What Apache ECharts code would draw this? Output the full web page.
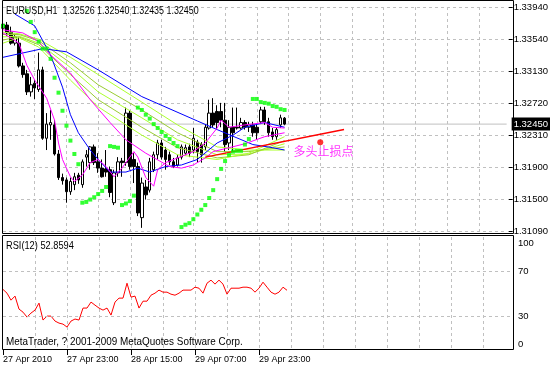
<!DOCTYPE html>
<html><head><meta charset="utf-8">
<script src="https://cdn.jsdelivr.net/npm/echarts@6/dist/echarts.min.js"></script>
<style>html,body{margin:0;padding:0;background:#fff}#c{width:551px;height:367px}</style>
</head><body><div id="c"></div>
<script>
const FONT = '"Liberation Sans", Arial, sans-serif';
const timeLabels = ['27 Apr 2010','27 Apr 23:00','28 Apr 15:00','29 Apr 07:00','29 Apr 23:00'];
const priceTicks = ['1.31090','1.31500','1.31900','1.32310','1.32720','1.33130','1.33540','1.33940'];
const rsiTicks = [0,30,70,100];
const titleText = 'EURUSD,H1  1.32526 1.32540 1.32435 1.32450';
const rsiTitle = 'RSI(12) 52.8594';
const copyright = 'MetaTrader, ? 2001-2009 MetaQuotes Software Corp.';
const noteText = '多头止损点';
const lastPrice = 1.32450;

const open = [1.3367,1.3371,1.3362,1.3348,1.3348,1.3319,1.3309,1.3286,1.3297,1.3289,
 1.3314,1.3227,1.3244,1.3244,1.3207,1.3177,1.3174,1.3159,1.3168,1.3180,
 1.3168,1.3203,1.3196,1.3216,1.3197,1.3189,1.3188,1.3187,1.3145,1.3183,
 1.3198,1.3196,1.3259,1.3200,1.3191,1.3126,1.3165,1.3161,1.3187,1.3206,
 1.3221,1.3212,1.3206,1.3197,1.3193,1.3203,1.3208,1.3216,1.3212,1.3222,
 1.3219,1.3216,1.3240,1.3259,1.3261,1.3261,1.3250,1.3221,1.3241,1.3241,
 1.3240,1.3247,1.3241,1.3244,1.3241,1.3248,1.3263,1.3248,1.3235,1.3229,
 1.3244,1.32526];
const close = [1.3372,1.3361,1.3348,1.3356,1.3319,1.3308,1.3286,1.3295,1.3291,1.3314,
 1.3227,1.3245,1.3247,1.3207,1.3177,1.3173,1.3159,1.3172,1.3178,1.3174,
 1.3197,1.3206,1.3216,1.3196,1.3189,1.3178,1.3184,1.3158,1.3183,1.3197,
 1.3196,1.3259,1.3191,1.3191,1.3132,1.3170,1.3155,1.3197,1.3206,1.3221,
 1.3203,1.3200,1.3197,1.3191,1.3202,1.3216,1.3215,1.3208,1.3227,1.3210,
 1.3206,1.3241,1.3259,1.3244,1.3247,1.3250,1.3219,1.3241,1.3234,1.3240,
 1.3247,1.3241,1.3244,1.3234,1.3234,1.3263,1.3248,1.3234,1.3229,1.3238,
 1.3253,1.32450];
const low = [1.3364,1.3357,1.3346,1.3345,1.3317,1.3304,1.3282,1.3280,1.3277,1.3286,
 1.3225,1.3212,1.3225,1.3205,1.3174,1.3168,1.3145,1.3155,1.3161,1.3169,
 1.3164,1.3191,1.3187,1.3193,1.3183,1.3177,1.3178,1.3152,1.3142,1.3178,
 1.3178,1.3192,1.3187,1.3170,1.3128,1.3113,1.3149,1.3158,1.3184,1.3200,
 1.3200,1.3187,1.3193,1.3189,1.3191,1.3200,1.3205,1.3203,1.3208,1.3196,
 1.3196,1.3212,1.3238,1.3241,1.3238,1.3241,1.3210,1.3212,1.3210,1.3238,
 1.3238,1.3238,1.3235,1.3229,1.3225,1.3245,1.3244,1.3229,1.3225,1.3225,
 1.3240,1.32435];
const high = [1.3378,1.3375,1.3369,1.3360,1.3356,1.3323,1.3314,1.3305,1.3301,1.3336,
 1.3318,1.3259,1.3263,1.3250,1.3212,1.3182,1.3177,1.3177,1.3183,1.3183,
 1.3200,1.3212,1.3217,1.3219,1.3208,1.3200,1.3212,1.3191,1.3187,1.3203,
 1.3202,1.3266,1.3263,1.3208,1.3196,1.3177,1.3174,1.3202,1.3210,1.3225,
 1.3225,1.3216,1.3210,1.3202,1.3206,1.3219,1.3219,1.3220,1.3240,1.3225,
 1.3222,1.3244,1.3276,1.3278,1.3269,1.3272,1.3272,1.3250,1.3266,1.3266,
 1.3253,1.3250,1.3248,1.3248,1.3244,1.3267,1.3267,1.3253,1.3240,1.3241,
 1.3257,1.32540];

const sar = [[0,1.3370],[6,1.3389],[7,1.3375],[8,1.3362],[9,1.3350],[10,1.3341],[11,1.3341],[12,1.3328],[13,1.3304],[14,1.3285],
 [15,1.3262],[16,1.3243],[17,1.3224],[18,1.3207],[19,1.3194],[20,1.3145],[21,1.3146],[22,1.3149],[23,1.3152],[24,1.3156],
 [25,1.3160],[26,1.3165],[27,1.3217],[28,1.3216],[29,1.3215],[30,1.3142],[31,1.3144],[32,1.3147],[33,1.3154],[34,1.3266],
 [35,1.3263],[36,1.3257],[37,1.3252],[38,1.3245],[39,1.3240],[40,1.3235],[41,1.3230],[42,1.3226],[43,1.3221],[44,1.3217],
 [45,1.3114],[46,1.3117],[47,1.3119],[48,1.3124],[49,1.3130],[50,1.3136],[51,1.3142],[52,1.3151],[53,1.3161],[54,1.3175],
 [55,1.3188],[56,1.3198],[57,1.3206],[58,1.3210],[59,1.3211],[60,1.3211],[61,1.3219],[62,1.3226],[63,1.3277],[64,1.3277],
 [65,1.3273],[66,1.3272],[67,1.3271],[68,1.3268],[69,1.3267],[70,1.3264],[71,1.3263]];

const blueSlow = [[0,1.3330],[10,1.3341],[16,1.3337],[24,1.3314],[35,1.3280],[49,1.3249],[54,1.3238],[63,1.3219],[68,1.3215],[71,1.3212]];
const blueFast = [[3,1.3385],[8,1.3370],[12,1.3333],[15,1.3292],[17,1.3257],[19,1.3234],[22,1.3212],[24,1.3200],[27,1.3184],[31,1.3184],
 [34,1.3189],[37,1.3184],[41,1.3191],[45,1.3193],[49,1.3200],[54,1.3221],[58,1.3231],[61,1.3241],[66,1.3247],[71,1.3241]];
const magentaFast = [[0,1.3361],[4,1.3348],[6,1.3320],[8,1.3301],[11,1.3278],[13,1.3250],[14,1.3221],[15,1.3200],[17,1.3178],[18,1.3172],
 [20,1.3180],[22,1.3196],[24,1.3200],[26,1.3191],[28,1.3178],[30,1.3189],[33,1.3210],[34,1.3203],[36,1.3177],[38,1.3166],
 [39,1.3187],[41,1.3196],[44,1.3202],[48,1.3210],[51,1.3221],[54,1.3240],[55,1.3250],[57,1.3241],[61,1.3244],[66,1.3247],
 [68,1.3241],[71,1.3240]];
const magentaSlow = [[0,1.3365],[5,1.3361],[9,1.3350],[12,1.3333],[17,1.3310],[22,1.3276],[27,1.3247],[31,1.3225],[36,1.3208],[42,1.3191],
 [45,1.3189],[48,1.3193],[51,1.3202],[53,1.3210],[57,1.3215],[61,1.3220],[66,1.3229],[71,1.3234]];
const yellowIdx = [0,4,9,17,24,35,44,54,62,71];
const yellow1 = [1.3348,1.3355,1.3343,1.3301,1.3267,1.3231,1.3206,1.3200,1.3208,1.3229];
const yellow2 = [1.3352,1.3356,1.3346,1.3308,1.3276,1.3241,1.3215,1.3202,1.3206,1.3224];
const yellow3 = [1.3356,1.3357,1.3348,1.3317,1.3286,1.3253,1.3225,1.3206,1.3207,1.3220];
const yellow4 = [1.3359,1.3359,1.3351,1.3323,1.3295,1.3263,1.3234,1.3210,1.3210,1.3216];
const yellow5 = [1.3362,1.3360,1.3353,1.3330,1.3308,1.3273,1.3244,1.3216,1.3212,1.3212];
const trendLine = [[51,1.3203],[86,1.3238]];
const stopPoint = [[80,1.3222]];
const notePoint = [[73,1.3210]];

const rsi = [53.6,50.3,44.1,47.7,36.2,33.5,29.1,32.7,35.3,41.5,
 26.5,30.0,30.0,25.6,23.8,22.9,20.3,25.6,27.4,26.5,
 37.1,37.1,42.4,39.7,37.1,35.3,37.1,30.9,42.4,45.9,
 45.9,59.1,46.8,47.7,37.1,43.2,43.2,48.5,50.3,53.0,
 51.2,51.2,49.4,48.5,50.3,53.0,53.0,53.0,55.6,54.7,
 50.3,59.1,61.8,58.3,61.8,58.3,49.4,54.7,54.7,54.7,
 55.6,55.6,54.7,51.2,54.7,60.0,55.6,51.2,49.4,51.2,
 55.6,52.86];

const NSLOTS = 128;
const cats = Array.from({length: NSLOTS}, (_, i) => (i % 16 === 0 && i < open.length) ? timeLabels[i / 16] : String(i));
const PMIN = 1.3109, PMAX = 1.3394, PSTEP = (PMAX - PMIN) / 7;
const candles = open.map((o, i) => [o, close[i], low[i], high[i]]);
const pair = (idx, vals) => idx.map((x, i) => [x, vals[i]]);

const gridColor = '#c0c0c0';
const dash = [3, 3];
const vSplit = (i) => i > 0 && i % 8 === 0;
const lineS = (data, color, z) => ({type: 'line', xAxisIndex: 0, yAxisIndex: 0, data, symbol: 'none', showSymbol: false,
  lineStyle: {color, width: 1}, z: z || 3, silent: true, clip: false});

const chart = echarts.init(document.getElementById('c'), null, {renderer: 'canvas'});
chart.setOption({
  animation: false,
  backgroundColor: '#fff',
  grid: [
    {left: 3, top: 7, width: 508, height: 224},
    {left: 3, top: 237, width: 508, height: 113}
  ],
  xAxis: [
    {gridIndex: 0, type: 'category', data: cats, boundaryGap: false,
     axisLine: {show: false}, axisTick: {show: false}, axisLabel: {show: false},
     splitLine: {show: true, interval: vSplit, lineStyle: {color: gridColor, type: dash}}},
    {gridIndex: 1, type: 'category', data: cats, boundaryGap: false,
     axisLine: {show: false},
     axisTick: {show: true, interval: (i) => i % 16 === 0 && i < open.length, length: 5, lineStyle: {color: '#000'}},
     axisLabel: {show: true, interval: (i) => i % 16 === 0 && i < open.length, align: 'left', margin: 5,
       fontFamily: FONT, fontSize: 9, color: '#000'},
     splitLine: {show: true, interval: vSplit, lineStyle: {color: gridColor, type: dash}}}
  ],
  yAxis: [
    {gridIndex: 0, type: 'value', position: 'right', offset: 2, min: PMIN, max: PMAX, interval: PSTEP, scale: true,
     axisLine: {show: false},
     axisTick: {show: true, length: 4, lineStyle: {color: '#000'}},
     axisLabel: {margin: 5, fontFamily: FONT, fontSize: 9.5, color: '#000',
       formatter: (v) => priceTicks[Math.round((v - PMIN) / PSTEP)] || ''},
     splitLine: {show: true, lineStyle: {color: gridColor, type: dash}}},
    {gridIndex: 1, type: 'value', position: 'right', offset: 2, min: 0, max: 100, interval: 10,
     axisLine: {show: false}, axisTick: {show: false},
     axisLabel: {margin: 5, fontFamily: FONT, fontSize: 9.5, color: '#000',
       formatter: (v) => rsiTicks.includes(v) ? (v === 100 ? '{t|100}' : v === 0 ? '{b|0}' : String(v)) : '',
       rich: {t: {padding: [12, 0, 0, 0], fontFamily: FONT, fontSize: 9.5, color: '#000'},
              b: {padding: [0, 0, 12, 0], fontFamily: FONT, fontSize: 9.5, color: '#000'}}},
     splitLine: {show: false}}
  ],
  series: [
    {type: 'line', xAxisIndex: 0, yAxisIndex: 0, data: [[0, lastPrice], [NSLOTS - 1, lastPrice]], symbol: 'none',
     lineStyle: {color: gridColor, width: 1}, z: 1, silent: true,
     endLabel: {show: true, distance: 5, formatter: () => lastPrice.toFixed(5),
       backgroundColor: '#000', color: '#fff', fontFamily: FONT, fontSize: 9.5, padding: [2, 2, 1, 2]}},
    {type: 'candlestick', xAxisIndex: 0, yAxisIndex: 0, data: candles, barWidth: 3, clip: false, z: 2, silent: true,
     itemStyle: {color: '#fff', color0: '#000', borderColor: '#000', borderColor0: '#000', borderWidth: 1}},
    lineS(pair(yellowIdx, yellow5), '#adff2f'),
    lineS(pair(yellowIdx, yellow4), '#9acd32'),
    lineS(pair(yellowIdx, yellow3), '#adff2f'),
    lineS(pair(yellowIdx, yellow2), '#9acd32'),
    lineS(pair(yellowIdx, yellow1), '#adff2f'),
    lineS(blueSlow, '#0000ff'),
    lineS(blueFast, '#0000ff'),
    lineS(magentaSlow, '#ff00ff'),
    lineS(magentaFast, '#ff00ff'),
    {type: 'line', xAxisIndex: 0, yAxisIndex: 0, data: trendLine, symbol: 'none', lineStyle: {color: '#ff0000', width: 1.5}, z: 4, silent: true},
    {type: 'scatter', xAxisIndex: 0, yAxisIndex: 0, data: sar, symbol: 'rect', symbolSize: 4, itemStyle: {color: '#00ff00'}, z: 5, silent: true, clip: false},
    {type: 'scatter', xAxisIndex: 0, yAxisIndex: 0, data: stopPoint, symbol: 'circle', symbolSize: 6, itemStyle: {color: '#ff0000'}, z: 5, silent: true},
    {type: 'scatter', xAxisIndex: 0, yAxisIndex: 0, data: notePoint, symbolSize: 0, z: 6, silent: true,
     label: {show: true, position: 'right', distance: 1, formatter: noteText, color: '#ff00ff',
       fontFamily: '"Noto Sans CJK SC", sans-serif', fontSize: 12}},
    {type: 'line', xAxisIndex: 1, yAxisIndex: 1, data: rsi, symbol: 'none', lineStyle: {color: '#ff0000', width: 1}, z: 3, silent: true,
     markLine: {silent: true, symbol: 'none', label: {show: false}, lineStyle: {color: gridColor, type: dash, width: 1},
       data: [{yAxis: 30}, {yAxis: 70}]}}
  ],
  graphic: [
    {type: 'rect', shape: {x: 2.5, y: 0.5, width: 511, height: 233}, style: {fill: 'none', stroke: '#000', lineWidth: 1}, z: 100, silent: true},
    {type: 'rect', shape: {x: 2.5, y: 235.5, width: 511, height: 114}, style: {fill: 'none', stroke: '#000', lineWidth: 1}, z: 100, silent: true},
    {type: 'text', x: 6, y: 5, scaleX: 0.81, style: {text: titleText, font: '11px ' + FONT, fill: '#000'}, z: 101, silent: true},
    {type: 'text', x: 6, y: 240, scaleX: 0.84, style: {text: rsiTitle, font: '11px ' + FONT, fill: '#000'}, z: 101, silent: true},
    {type: 'text', x: 6, y: 336, scaleX: 0.9, style: {text: copyright, font: '11px ' + FONT, fill: '#000'}, z: 101, silent: true}
  ]
});
</script></body></html>
